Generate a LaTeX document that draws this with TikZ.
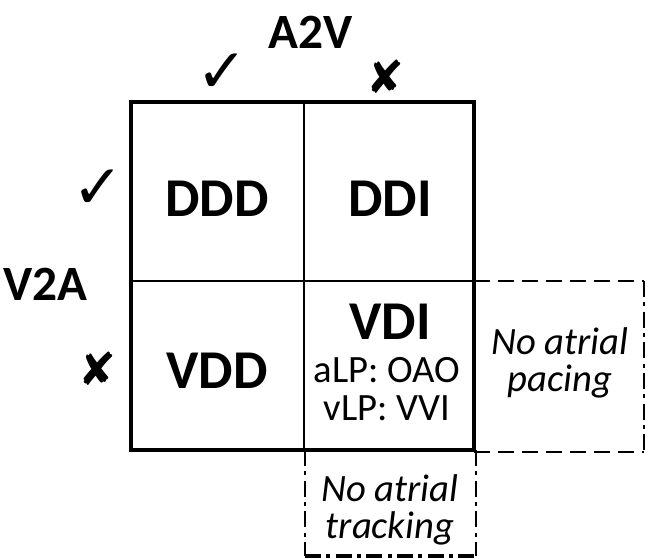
\documentclass[tikz,border=0pt]{standalone}
\usepackage{fontspec}
\setmainfont{Carlito}
\newfontfamily\symfont{DejaVu Sans}
\tikzset{every picture/.style={line width=0.75pt}}
\tikzset{
  celltxt/.style={inner sep=0.75pt,font=\fontsize{41}{44}\selectfont\bfseries},
  subtxt/.style={inner sep=0.75pt,font=\fontsize{29}{28.5}\selectfont,align=center},
  notetxt/.style={inner sep=0.75pt,font=\fontsize{29}{28}\selectfont\itshape,align=center},
  axistxt/.style={inner sep=0.75pt,font=\fontsize{37}{40}\selectfont\bfseries},
  chktxt/.style={inner sep=0.75pt,font=\fontsize{46}{46}\selectfont\symfont},
  crstxt/.style={inner sep=0.75pt,font=\fontsize{34}{34}\selectfont\symfont}
}

\begin{document}
\begin{tikzpicture}[x=0.75pt,y=0.75pt,yscale=-1,xscale=1]
\useasboundingbox (0,0) rectangle (651,559);

%Outer grid
\draw [line width=3.5]  (131,102) rectangle (474,450) ;
\draw [line width=1.5]  (304,102) -- (304,450) ;
\draw [line width=1.5]  (131,281) -- (474,281) ;
%Dashed boxes
\draw [line width=1.5] [dash pattern={on 12pt off 6pt}]  (474,281) -- (644,281) (474,452) -- (644,452) ;
\draw [line width=1.5] [dash pattern={on 12pt off 4pt on 3pt off 4pt}]  (644,281) -- (644,452) ;
\draw [line width=1.5] [dash pattern={on 12pt off 4pt on 3pt off 4pt}]  (305,450) -- (305,556) (476,450) -- (476,556) ;
\draw [line width=3] [dash pattern={on 12pt off 4pt on 3pt off 4pt}]  (305,556) -- (476,556) ;

% Text Node
\draw (311,32) node [axistxt] (a2v) {A2V};
\draw (2,284) node [axistxt,anchor=west] (v2a) {V2A};
% Text Node
\draw (222,73) node [chktxt] (chkA) {✓};
\draw (385,77) node [crstxt] (crsA) {✘};
\draw (98,189) node [chktxt] (chkV) {✓};
\draw (97,369) node [crstxt] (crsV) {✘};
% Text Node
\draw (217,199) node [celltxt] (ddd) {DDD};
\draw (390,199) node [celltxt] (ddi) {DDI};
\draw (217,371) node [celltxt] (vdd) {VDD};
\draw (390,322) node [celltxt] (vdi) {VDI};
\draw (387,389) node [subtxt] (vdisub) {aLP: OAO\\vLP: VVI};
% Text Node
\draw (560,363) node [notetxt] (nopace) {No atrial\\pacing};
\draw (390,510) node [notetxt] (notrack) {No atrial\\tracking};

\end{tikzpicture}
\end{document}
